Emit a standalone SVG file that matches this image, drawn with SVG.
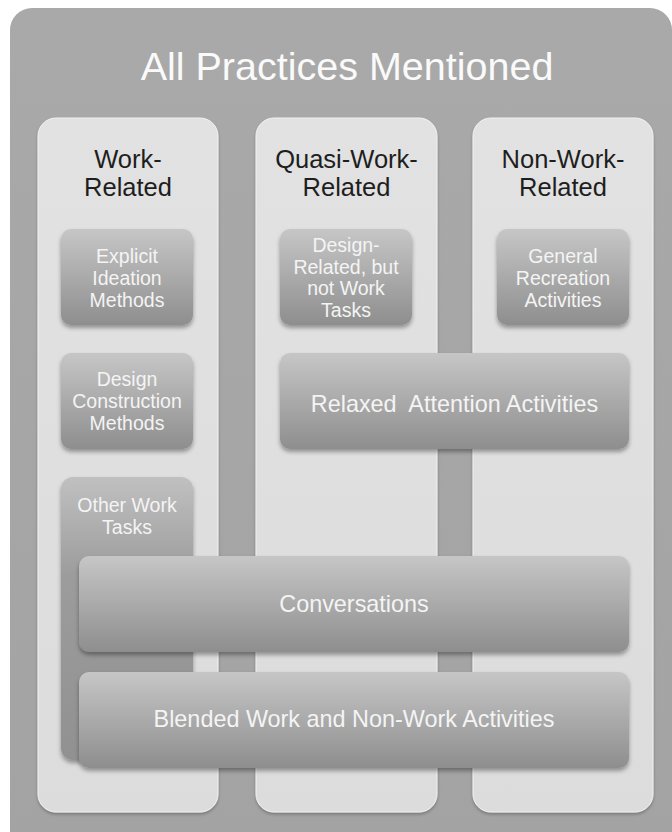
<svg xmlns="http://www.w3.org/2000/svg" width="672" height="832" viewBox="0 0 672 832">
  <defs>
    <linearGradient id="outerFill" x1="0" y1="0" x2="0" y2="1">
      <stop offset="0" stop-color="#a9a9a9"/>
      <stop offset="1" stop-color="#a3a3a3"/>
    </linearGradient>
    <linearGradient id="colFill" x1="0" y1="0" x2="0" y2="1">
      <stop offset="0" stop-color="#e2e2e2"/>
      <stop offset="1" stop-color="#dcdcdc"/>
    </linearGradient>
    <linearGradient id="boxFill" x1="0" y1="0" x2="0" y2="1">
      <stop offset="0" stop-color="#c6c6c6"/>
      <stop offset="1" stop-color="#8e8e8e"/>
    </linearGradient>
    <linearGradient id="tallFill" x1="0" y1="0" x2="0" y2="1">
      <stop offset="0" stop-color="#c0c0c0"/>
      <stop offset="0.35" stop-color="#9c9c9c"/>
      <stop offset="1" stop-color="#919191"/>
    </linearGradient>
    <filter id="shadow" x="-10%" y="-10%" width="120%" height="130%">
      <feDropShadow dx="0" dy="3" stdDeviation="2" flood-color="#000" flood-opacity="0.35"/>
    </filter>
    <filter id="colShadow" x="-10%" y="-10%" width="120%" height="120%">
      <feDropShadow dx="0" dy="2" stdDeviation="1.5" flood-color="#000" flood-opacity="0.25"/>
    </filter>
  </defs>
  <style>
    text { font-family: "Liberation Sans", Arial, sans-serif; text-anchor: middle; }
    .title { font-size: 39.5px; fill: #fafafa; }
    .head { font-size: 25.5px; fill: #1e1e1e; }
    .small { font-size: 19.5px; fill: #f4f4f4; }
    .wide { font-size: 23.4px; fill: #f4f4f4; }
    .col { fill: url(#colFill); stroke: #f2f2f2; stroke-width: 1; filter: url(#colShadow); }
    .box { fill: url(#boxFill); filter: url(#shadow); }
  </style>

  <rect width="672" height="832" fill="#ffffff"/>

  <!-- outer container -->
  <g id="all-practices">
    <rect x="10" y="8" width="662" height="850" rx="22" fill="url(#outerFill)"/>
    <text class="title" x="347" y="80">All Practices Mentioned</text>
  </g>

  <!-- the three category columns -->
  <g id="work-related">
    <rect class="col" x="38" y="118" width="180" height="694" rx="18"/>
    <text class="head" x="128" y="168">Work-</text>
    <text class="head" x="128" y="196">Related</text>
  </g>
  <g id="quasi-work-related">
    <rect class="col" x="256" y="118" width="181" height="694" rx="18"/>
    <text class="head" x="346.5" y="168">Quasi-Work-</text>
    <text class="head" x="346.5" y="196">Related</text>
  </g>
  <g id="non-work-related">
    <rect class="col" x="473" y="118" width="180" height="694" rx="18"/>
    <text class="head" x="563" y="168">Non-Work-</text>
    <text class="head" x="563" y="196">Related</text>
  </g>

  <!-- practices inside the columns -->
  <g id="explicit-ideation">
    <rect class="box" x="61" y="229" width="132" height="96" rx="10"/>
    <text class="small" x="127" y="263">Explicit</text>
    <text class="small" x="127" y="285">Ideation</text>
    <text class="small" x="127" y="307">Methods</text>
  </g>
  <g id="design-construction">
    <rect class="box" x="61" y="353" width="132" height="96" rx="10"/>
    <text class="small" x="127" y="386">Design</text>
    <text class="small" x="127" y="408">Construction</text>
    <text class="small" x="127" y="430">Methods</text>
  </g>
  <g id="other-work-tasks">
    <rect x="61" y="477" width="132" height="283" rx="12" fill="url(#tallFill)" filter="url(#shadow)"/>
    <text class="small" x="127" y="512">Other Work</text>
    <text class="small" x="127" y="534">Tasks</text>
  </g>
  <g id="design-related">
    <rect class="box" x="280" y="229" width="132" height="96" rx="10"/>
    <text class="small" x="346" y="252">Design-</text>
    <text class="small" x="346" y="273.5">Related, but</text>
    <text class="small" x="346" y="295">not Work</text>
    <text class="small" x="346" y="317">Tasks</text>
  </g>
  <g id="general-recreation">
    <rect class="box" x="497" y="229" width="132" height="96" rx="10"/>
    <text class="small" x="563" y="263">General</text>
    <text class="small" x="563" y="285">Recreation</text>
    <text class="small" x="563" y="307">Activities</text>
  </g>

  <!-- practices spanning several columns -->
  <g id="relaxed-attention">
    <rect class="box" x="280" y="353" width="349" height="96" rx="10"/>
    <text class="wide" x="454.5" y="412" xml:space="preserve">Relaxed  Attention Activities</text>
  </g>
  <g id="conversations">
    <rect class="box" x="79" y="556" width="550" height="96" rx="10"/>
    <text class="wide" x="354" y="612">Conversations</text>
  </g>
  <g id="blended">
    <rect class="box" x="79" y="672" width="550" height="96" rx="10"/>
    <text class="wide" x="354" y="727">Blended Work and Non-Work Activities</text>
  </g>

  <g id="connectors"/>
</svg>
